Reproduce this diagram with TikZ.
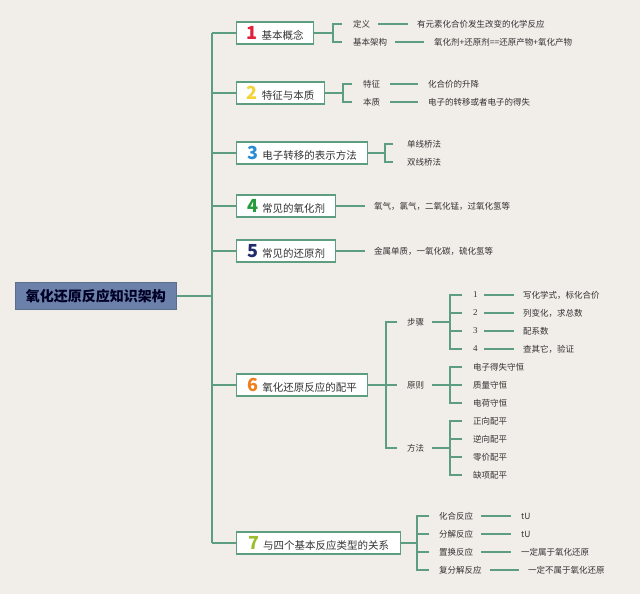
\documentclass[tikz,border=0pt]{standalone}
\usepackage{fontspec}
\setmainfont{Noto Sans CJK SC}
\newfontfamily\serifd{Liberation Serif}
\definecolor{bg}{HTML}{F1EDE9}
\definecolor{lc}{HTML}{5E9E80}
\definecolor{rootfill}{HTML}{6C81AA}
\definecolor{tc}{HTML}{333333}
\definecolor{c1}{HTML}{E0223A}
\definecolor{c2}{HTML}{F3D437}
\definecolor{c3}{HTML}{2A8DD4}
\definecolor{c4}{HTML}{259B3A}
\definecolor{c5}{HTML}{1F2B6B}
\definecolor{c6}{HTML}{F07F1E}
\definecolor{c7}{HTML}{9CBE2C}
\newcommand\bnum[2]{{\fontsize{18}{18}\selectfont\bfseries\color{#1}#2}\hspace{4pt}}
\begin{document}
\begin{tikzpicture}[x=1pt,y=-1pt,
  ln/.style={draw=lc,line width=1.2pt},
  mbox/.style={draw=lc,line width=1.1pt,fill=white,anchor=west,minimum height=22pt,inner xsep=0pt,inner ysep=0pt,font=\fontsize{10.5}{12}\selectfont,text=tc},
  lbl/.style={anchor=west,inner sep=0pt,font=\fontsize{8.5}{10}\selectfont,text=tc},
  rootbox/.style={fill=rootfill,draw=rootfill!85!black,line width=0.6pt,anchor=west,minimum width=161pt,minimum height=27pt,inner sep=0pt,font=\fontsize{14}{16}\selectfont\bfseries,text=black!85!blue}
]
\fill[bg] (0,0) rectangle (640,594);
\useasboundingbox (0,0) rectangle (640,594);

% root and trunk
\node[rootbox] (r) at (15,296) {氧化还原反应知识架构};
\coordinate (tr) at (212,296);
\coordinate (t1) at (212,33);
\coordinate (t2) at (212,93);
\coordinate (t3) at (212,153);
\coordinate (t4) at (212,206);
\coordinate (t5) at (212,251);
\coordinate (t6) at (212,385);
\coordinate (t7) at (212,543);
\draw[ln] (r.east) -- (tr);
\draw[ln] (t1) -- (t7);

% boxes
\node[mbox,minimum width=77pt] (n1) at (236,33) {\bnum{c1}{1}基本概念};
\node[mbox,minimum width=88pt] (n2) at (236,93) {\bnum{c2}{2}特征与本质};
\node[mbox,minimum width=131pt] (n3) at (236,153) {\bnum{c3}{3}电子转移的表示方法};
\node[mbox,minimum width=99pt] (n4) at (236,206) {\bnum{c4}{4}常见的氧化剂};
\node[mbox,minimum width=99pt] (n5) at (236,251) {\bnum{c5}{5}常见的还原剂};
\node[mbox,minimum width=131pt] (n6) at (236,385) {\bnum{c6}{6}氧化还原反应的配平};
\node[mbox,minimum width=164pt] (n7) at (236,543) {\bnum{c7}{7}与四个基本反应类型的关系};
\foreach \i in {1,...,7} {\draw[ln] (t\i) -- (n\i.west);}

% 1
\coordinate (k1) at (333,33);
\node[lbl] (a1) at (353,24) {定义};
\node[lbl] (a2) at (353,42) {基本架构};
\node[lbl] (a1t) at (417,24) {有元素化合价发生改变的化学反应};
\node[lbl] (a2t) at (434,42) {氧化剂+还原剂==还原产物+氧化产物};
\draw[ln] (n1.east) -- (k1);
\draw[ln] ([xshift=-11pt]a1.west) -| (k1) |- ([xshift=-11pt]a2.west);
\draw[ln] ([xshift=8pt]a1.east) -- ([xshift=-9pt]a1t.west);
\draw[ln] ([xshift=8pt]a2.east) -- ([xshift=-10pt]a2t.west);

% 2
\coordinate (k2) at (343,93);
\node[lbl] (b1) at (363,84) {特征};
\node[lbl] (b2) at (363,102) {本质};
\node[lbl] (b1t) at (428,84) {化合价的升降};
\node[lbl] (b2t) at (428,102) {电子的转移或者电子的得失};
\draw[ln] (n2.east) -- (k2);
\draw[ln] ([xshift=-11pt]b1.west) -| (k2) |- ([xshift=-11pt]b2.west);
\draw[ln] ([xshift=10pt]b1.east) -- ([xshift=-10pt]b1t.west);
\draw[ln] ([xshift=10pt]b2.east) -- ([xshift=-10pt]b2t.west);

% 3
\coordinate (k3) at (385,153);
\node[lbl] (c1n) at (407,144) {单线桥法};
\node[lbl] (c2n) at (407,162) {双线桥法};
\draw[ln] (n3.east) -- (k3);
\draw[ln] ([xshift=-14pt]c1n.west) -| (k3) |- ([xshift=-14pt]c2n.west);

% 4, 5
\node[lbl] (d1t) at (374,206) {氧气，氯气，二氧化锰，过氧化氢等};
\draw[ln] (n4.east) -- ([xshift=-9pt]d1t.west);
\node[lbl] (e1t) at (374,251) {金属单质，一氧化碳，硫化氢等};
\draw[ln] (n5.east) -- ([xshift=-9pt]e1t.west);

% 6
\coordinate (k6) at (386,385);
\node[lbl] (s1) at (407,322) {步骤};
\node[lbl] (s2) at (407,385) {原则};
\node[lbl] (s3) at (407,448) {方法};
\draw[ln] (n6.east) -- (k6);
\draw[ln] ([xshift=-10pt]s1.west) -| (k6) |- ([xshift=-10pt]s3.west);
\draw[ln] (k6) -- ([xshift=-10pt]s2.west);

\coordinate (q1) at (450,322);
\coordinate (q2) at (450,385);
\coordinate (q3) at (450,448);
\draw[ln] ([xshift=8pt]s1.east) -- (q1);
\draw[ln] ([xshift=8pt]s2.east) -- (q2);
\draw[ln] ([xshift=8pt]s3.east) -- (q3);

% steps
\node[lbl,font=\fontsize{9}{10}\serifd] (p1) at (473,295) {1};
\node[lbl,font=\fontsize{9}{10}\serifd] (p2) at (473,313) {2};
\node[lbl,font=\fontsize{9}{10}\serifd] (p3) at (473,331) {3};
\node[lbl,font=\fontsize{9}{10}\serifd] (p4) at (473,349) {4};
\node[lbl] (p1t) at (523,295) {写化学式，标化合价};
\node[lbl] (p2t) at (523,313) {列变化，求总数};
\node[lbl] (p3t) at (523,331) {配系数};
\node[lbl] (p4t) at (523,349) {查其它，验证};
\draw[ln] ([xshift=-11pt]p1.west) -| (q1) |- ([xshift=-11pt]p4.west);
\draw[ln] ([xshift=-11pt]p2.west) -- ([xshift=-23pt]p2.west);
\draw[ln] ([xshift=-11pt]p3.west) -- ([xshift=-23pt]p3.west);
\foreach \i in {1,...,4} {\draw[ln] (484,0 |- p\i.west) -- ([xshift=-9pt]p\i t.west);}

% principles
\node[lbl] (g1) at (473,367) {电子得失守恒};
\node[lbl] (g2) at (473,385) {质量守恒};
\node[lbl] (g3) at (473,403) {电荷守恒};
\draw[ln] ([xshift=-11pt]g1.west) -| (q2) |- ([xshift=-11pt]g3.west);
\draw[ln] (q2) -- ([xshift=-11pt]g2.west);

% methods
\node[lbl] (m1) at (473,421) {正向配平};
\node[lbl] (m2) at (473,439) {逆向配平};
\node[lbl] (m3) at (473,457) {零价配平};
\node[lbl] (m4) at (473,475) {缺项配平};
\draw[ln] ([xshift=-11pt]m1.west) -| (q3) |- ([xshift=-11pt]m4.west);
\draw[ln] ([xshift=-11pt]m2.west) -- ([xshift=-23pt]m2.west);
\draw[ln] ([xshift=-11pt]m3.west) -- ([xshift=-23pt]m3.west);

% 7
\coordinate (k7) at (417,543);
\node[lbl] (h1) at (439,516) {化合反应};
\node[lbl] (h2) at (439,534) {分解反应};
\node[lbl] (h3) at (439,552) {置换反应};
\node[lbl] (h4) at (439,570) {复分解反应};
\node[lbl] (h1t) at (521,516) {tU};
\node[lbl] (h2t) at (521,534) {tU};
\node[lbl] (h3t) at (521,552) {一定属于氧化还原};
\node[lbl] (h4t) at (528,570) {一定不属于氧化还原};
\draw[ln] (n7.east) -- (k7);
\draw[ln] ([xshift=-10pt]h1.west) -| (k7) |- ([xshift=-10pt]h4.west);
\draw[ln] ([xshift=-10pt]h2.west) -- ([xshift=-22pt]h2.west);
\draw[ln] ([xshift=-10pt]h3.west) -- ([xshift=-22pt]h3.west);
\draw[ln] ([xshift=8pt]h1.east) -- ([xshift=-10pt]h1t.west);
\draw[ln] ([xshift=8pt]h2.east) -- ([xshift=-10pt]h2t.west);
\draw[ln] ([xshift=8pt]h3.east) -- ([xshift=-10pt]h3t.west);
\draw[ln] ([xshift=8pt]h4.east) -- ([xshift=-9pt]h4t.west);
\end{tikzpicture}
\end{document}
